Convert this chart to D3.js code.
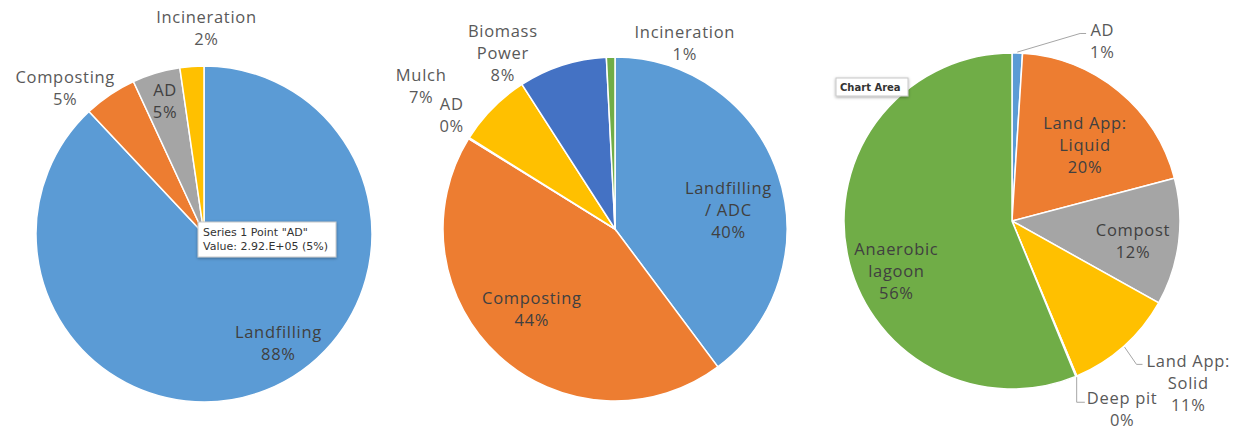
<!DOCTYPE html>
<html>
<head>
<meta charset="UTF-8">
<title>Waste management pies</title>
<style>
    body {
        margin: 0;
        background: #fff;
        font-family: "Open Sans", "DejaVu Sans", sans-serif;
    }
    .slice {
        stroke: #fff;
        stroke-width: 1.5px;
    }
    .lbl {
        font-size: 16.5px;
        letter-spacing: 0.7px;
        fill: #595959;
    }
    .lbl.in {
        fill: #404040;
    }
    .leader {
        fill: none;
        stroke: #a6a6a6;
        stroke-width: 1px;
    }
    .tip rect {
        fill: #fff;
        stroke: #c8c8c8;
    }
    .tip text {
        font-family: "DejaVu Sans", sans-serif;
        font-size: 11px;
        fill: #333;
    }
</style>
</head>
<body>
<svg id="chart" width="1247" height="431"></svg>
<script src="https://d3js.org/d3.v7.min.js"></script>
<script>

// ---- data ----
// left pie
let labels1 = ["Landfilling", "Composting", "AD", "Incineration"];
let values1 = [88.0, 5.1, 4.6, 2.3];
let colors1 = ["#5B9BD5", "#ED7D31", "#A5A5A5", "#FFC000"];

// middle pie
let labels2 = ["Landfilling\n/ ADC", "Composting", "AD", "Mulch", "Biomass\nPower", "Incineration"];
let values2 = [39.8, 44.0, 0.1, 7.0, 8.3, 0.8];
let colors2 = ["#5B9BD5", "#ED7D31", "#A5A5A5", "#FFC000", "#4472C4", "#70AD47"];

// right pie
let labels3 = ["AD", "Land App:\nLiquid", "Compost", "Land App:\nSolid", "Deep pit", "Anaerobic\nlagoon"];
let values3 = [1.0, 19.9, 12.2, 10.6, 0.1, 56.2];
let colors3 = ["#5B9BD5", "#ED7D31", "#A5A5A5", "#FFC000", "#4472C4", "#70AD47"];

let tipLines = ["Series 1 Point \"AD\"", "Value: 2.92.E+05 (5%)"];

// ---- layout ----
let charts = [
    {cx: 204, cy: 234, r: 168, labels: labels1, values: values1, colors: colors1,
     inside: [true, false, true, false],
     nudge: [[28, -8], [-26, 21], [-3, -12], [17, -5]],
     leader: [false, false, false, false]},
    {cx: 615, cy: 229, r: 172, labels: labels2, values: values2, colors: colors2,
     inside: [true, true, false, false, false, false],
     nudge: [[-9, 22], [4, -15], [12, -5], [-47, 2], [-49, 21], [75, 21]],
     leader: [false, false, false, false, false, false]},
    {cx: 1012, cy: 221, r: 168, labels: labels3, values: values3, colors: colors3,
     inside: [false, true, true, false, false, true],
     nudge: [[84, 22], [-7, 22], [-4, 4], [42, 12], [33, 2], [8, 26]],
     leader: [true, false, false, true, true, false]}
];

let lineH = 22;
let svg = d3.select("#chart");

let defs = svg.append("defs");
let shadow = defs.append("filter").attr("id", "shadow")
    .attr("x", "-20%").attr("y", "-30%").attr("width", "140%").attr("height", "170%");
shadow.append("feDropShadow").attr("dx", 0).attr("dy", 1).attr("stdDeviation", 1.5)
    .attr("flood-color", "#000").attr("flood-opacity", 0.35);

let pie = d3.pie().sort(null).value(d => d);

function polar(a, rad) {
    return [Math.sin(a) * rad, -Math.cos(a) * rad];
}

charts.forEach(c => {
    let total = d3.sum(c.values);
    let arcs = pie(c.values);
    let arc = d3.arc().innerRadius(0).outerRadius(c.r);

    let g = svg.append("g").attr("transform", "translate(" + c.cx + "," + c.cy + ")");

    g.selectAll("path.slice")
        .data(arcs)
        .enter().append("path")
        .attr("class", "slice")
        .attr("d", arc)
        .attr("fill", (d, i) => c.colors[i]);

    arcs.forEach((d, i) => {
        let mid = (d.startAngle + d.endAngle) / 2;
        let k = c.inside[i] ? 0.75 : 1.2;
        let p = polar(mid, c.r * k);
        let x = p[0] + c.nudge[i][0];
        let y = p[1] + c.nudge[i][1];
        let lines = c.labels[i].split("\n").concat([Math.round(d.value / total * 100) + "%"]);
        let y0 = y - (lines.length - 1) * lineH / 2;

        let t = g.append("text")
            .attr("class", c.inside[i] ? "lbl in" : "lbl")
            .attr("text-anchor", "middle");
        lines.forEach((s, j) => {
            t.append("tspan")
                .attr("x", x)
                .attr("y", y0 + j * lineH)
                .attr("dy", "0.35em")
                .text(s);
        });

        if (c.leader[i]) {
            let w = t.node().getBBox().width;
            let s = polar(mid, c.r + 1);
            let left = x - w / 2 - 4;
            let pts;
            if (Math.abs(left - s[0]) < 16) {
                pts = [s, [s[0], y0 + 4], [left + 2, y0 + 4]];
            } else {
                pts = [s, [left - 6, y0 + 3], [left, y0 + 3]];
            }
            g.append("path")
                .attr("class", "leader")
                .attr("d", d3.line()(pts));
        }
    });
});

// hover tooltip over left pie
let tip = svg.append("g").attr("class", "tip");
tip.append("rect")
    .attr("x", 198).attr("y", 222)
    .attr("width", 138).attr("height", 35)
    .attr("filter", "url(#shadow)");
tip.selectAll("text")
    .data(tipLines)
    .enter().append("text")
    .attr("x", 203)
    .attr("y", (d, i) => 232 + i * 14)
    .attr("dy", "0.35em")
    .text(d => d);

// "Chart Area" hover box on right pie
let ca = svg.append("g").attr("class", "tip");
ca.append("rect")
    .attr("x", 836).attr("y", 78)
    .attr("width", 72).attr("height", 18)
    .attr("filter", "url(#shadow)");
ca.append("text")
    .attr("x", 840).attr("y", 87)
    .attr("dy", "0.35em")
    .style("font-size", "10px")
    .style("font-weight", "bold")
    .text("Chart Area");

</script>
</body>
</html>
